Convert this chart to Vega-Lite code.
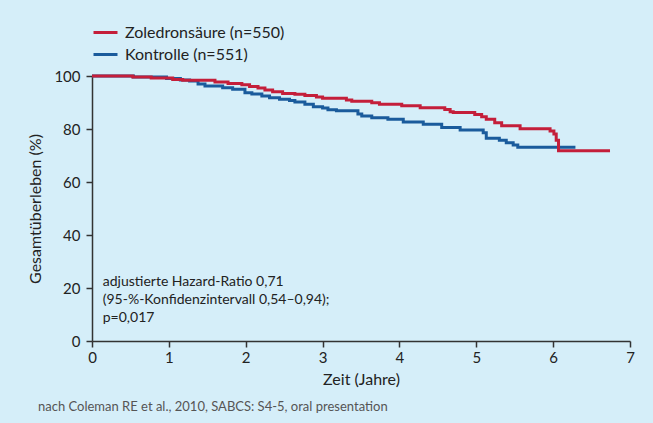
{
  "$schema": "https://vega.github.io/schema/vega-lite/v6.json",
  "width": 538,
  "height": 265,
  "autosize": "none",
  "padding": {"left": 92, "top": 76, "right": 23, "bottom": 82},
  "background": "#D5EEF9",
  "title": {
    "text": "nach Coleman RE et al., 2010, SABCS: S4-5, oral presentation",
    "orient": "bottom",
    "anchor": "start",
    "frame": "group",
    "dx": -54,
    "offset": 14,
    "fontSize": 13,
    "fontWeight": "normal",
    "font": "Lato",
    "color": "#555555"
  },
  "config": {
    "view": {"stroke": null},
    "font": "Lato",
    "axis": {
      "grid": false,
      "labelFlush": false,
      "domainColor": "#333333",
      "domainWidth": 1.5,
      "tickColor": "#333333",
      "tickWidth": 1.5,
      "tickSize": 6,
      "labelFontSize": 15,
      "labelColor": "#222222",
      "labelFont": "Lato",
      "titleFont": "Lato",
      "titleFontSize": 16,
      "titleFontWeight": "normal",
      "titleColor": "#222222"
    }
  },
  "layer": [
    {
      "data": {
        "values": [
          {"grp": "Kontrolle (n=551)", "t": 0, "s": 100},
          {"grp": "Kontrolle (n=551)", "t": 0.54, "s": 99.6},
          {"grp": "Kontrolle (n=551)", "t": 0.97, "s": 99.1},
          {"grp": "Kontrolle (n=551)", "t": 1.15, "s": 98.5},
          {"grp": "Kontrolle (n=551)", "t": 1.27, "s": 98.1},
          {"grp": "Kontrolle (n=551)", "t": 1.38, "s": 97.0},
          {"grp": "Kontrolle (n=551)", "t": 1.47, "s": 96.2},
          {"grp": "Kontrolle (n=551)", "t": 1.70, "s": 95.6},
          {"grp": "Kontrolle (n=551)", "t": 1.83, "s": 95.0},
          {"grp": "Kontrolle (n=551)", "t": 1.99, "s": 93.7},
          {"grp": "Kontrolle (n=551)", "t": 2.08, "s": 93.2},
          {"grp": "Kontrolle (n=551)", "t": 2.21, "s": 92.5},
          {"grp": "Kontrolle (n=551)", "t": 2.31, "s": 91.8},
          {"grp": "Kontrolle (n=551)", "t": 2.44, "s": 91.2},
          {"grp": "Kontrolle (n=551)", "t": 2.57, "s": 90.8},
          {"grp": "Kontrolle (n=551)", "t": 2.64, "s": 90.2},
          {"grp": "Kontrolle (n=551)", "t": 2.77, "s": 89.3},
          {"grp": "Kontrolle (n=551)", "t": 2.88, "s": 88.4},
          {"grp": "Kontrolle (n=551)", "t": 3.0, "s": 87.9},
          {"grp": "Kontrolle (n=551)", "t": 3.07, "s": 87.3},
          {"grp": "Kontrolle (n=551)", "t": 3.18, "s": 86.9},
          {"grp": "Kontrolle (n=551)", "t": 3.46, "s": 85.7},
          {"grp": "Kontrolle (n=551)", "t": 3.51, "s": 84.9},
          {"grp": "Kontrolle (n=551)", "t": 3.64, "s": 84.2},
          {"grp": "Kontrolle (n=551)", "t": 3.85, "s": 83.7},
          {"grp": "Kontrolle (n=551)", "t": 4.05, "s": 82.6},
          {"grp": "Kontrolle (n=551)", "t": 4.31, "s": 81.8},
          {"grp": "Kontrolle (n=551)", "t": 4.55, "s": 80.6},
          {"grp": "Kontrolle (n=551)", "t": 4.79, "s": 79.6},
          {"grp": "Kontrolle (n=551)", "t": 5.09, "s": 78.6},
          {"grp": "Kontrolle (n=551)", "t": 5.13, "s": 76.5},
          {"grp": "Kontrolle (n=551)", "t": 5.30, "s": 75.8},
          {"grp": "Kontrolle (n=551)", "t": 5.39, "s": 74.8},
          {"grp": "Kontrolle (n=551)", "t": 5.48, "s": 74.0},
          {"grp": "Kontrolle (n=551)", "t": 5.54, "s": 73.1},
          {"grp": "Kontrolle (n=551)", "t": 6.29, "s": 73.1},
          {"grp": "Zoledronsäure (n=550)", "t": 0, "s": 100},
          {"grp": "Zoledronsäure (n=550)", "t": 0.53, "s": 99.6},
          {"grp": "Zoledronsäure (n=550)", "t": 0.77, "s": 99.2},
          {"grp": "Zoledronsäure (n=550)", "t": 1.05, "s": 98.7},
          {"grp": "Zoledronsäure (n=550)", "t": 1.18, "s": 98.4},
          {"grp": "Zoledronsäure (n=550)", "t": 1.60, "s": 97.7},
          {"grp": "Zoledronsäure (n=550)", "t": 1.77, "s": 97.2},
          {"grp": "Zoledronsäure (n=550)", "t": 1.95, "s": 96.7},
          {"grp": "Zoledronsäure (n=550)", "t": 2.05, "s": 96.0},
          {"grp": "Zoledronsäure (n=550)", "t": 2.16, "s": 95.5},
          {"grp": "Zoledronsäure (n=550)", "t": 2.25, "s": 94.7},
          {"grp": "Zoledronsäure (n=550)", "t": 2.35, "s": 94.1},
          {"grp": "Zoledronsäure (n=550)", "t": 2.48, "s": 93.4},
          {"grp": "Zoledronsäure (n=550)", "t": 2.64, "s": 93.1},
          {"grp": "Zoledronsäure (n=550)", "t": 2.77, "s": 92.6},
          {"grp": "Zoledronsäure (n=550)", "t": 2.92, "s": 92.1},
          {"grp": "Zoledronsäure (n=550)", "t": 3.0, "s": 91.6},
          {"grp": "Zoledronsäure (n=550)", "t": 3.31, "s": 90.9},
          {"grp": "Zoledronsäure (n=550)", "t": 3.38, "s": 90.5},
          {"grp": "Zoledronsäure (n=550)", "t": 3.64, "s": 89.9},
          {"grp": "Zoledronsäure (n=550)", "t": 3.74, "s": 89.3},
          {"grp": "Zoledronsäure (n=550)", "t": 4.03, "s": 88.8},
          {"grp": "Zoledronsäure (n=550)", "t": 4.27, "s": 88.0},
          {"grp": "Zoledronsäure (n=550)", "t": 4.59, "s": 87.4},
          {"grp": "Zoledronsäure (n=550)", "t": 4.66, "s": 86.5},
          {"grp": "Zoledronsäure (n=550)", "t": 4.70, "s": 86.2},
          {"grp": "Zoledronsäure (n=550)", "t": 4.98, "s": 85.5},
          {"grp": "Zoledronsäure (n=550)", "t": 5.07, "s": 84.6},
          {"grp": "Zoledronsäure (n=550)", "t": 5.13, "s": 83.7},
          {"grp": "Zoledronsäure (n=550)", "t": 5.24, "s": 82.4},
          {"grp": "Zoledronsäure (n=550)", "t": 5.33, "s": 81.2},
          {"grp": "Zoledronsäure (n=550)", "t": 5.57, "s": 80.1},
          {"grp": "Zoledronsäure (n=550)", "t": 5.96, "s": 79.2},
          {"grp": "Zoledronsäure (n=550)", "t": 6.01, "s": 78.1},
          {"grp": "Zoledronsäure (n=550)", "t": 6.04, "s": 75.8},
          {"grp": "Zoledronsäure (n=550)", "t": 6.07, "s": 71.8},
          {"grp": "Zoledronsäure (n=550)", "t": 6.74, "s": 71.8}
        ]
      },
      "mark": {"type": "line", "interpolate": "step-after", "strokeWidth": 3},
      "encoding": {
        "x": {
          "field": "t",
          "type": "quantitative",
          "scale": {"domain": [0, 7], "nice": false},
          "axis": {"values": [0, 1, 2, 3, 4, 5, 6, 7], "format": "d", "title": "Zeit (Jahre)", "labelPadding": 3, "titlePadding": 6}
        },
        "y": {
          "field": "s",
          "type": "quantitative",
          "scale": {"domain": [0, 100], "nice": false},
          "axis": {"values": [0, 20, 40, 60, 80, 100], "format": "d", "title": "Gesamtüberleben (%)", "labelPadding": 6, "titlePadding": 10}
        },
        "color": {
          "field": "grp",
          "type": "nominal",
          "scale": {
            "domain": ["Zoledronsäure (n=550)", "Kontrolle (n=551)"],
            "range": ["#C41E3A", "#1A5B9C"]
          },
          "legend": {
            "title": null,
            "orient": "none",
            "legendX": 0,
            "legendY": -57,
            "symbolType": "stroke",
            "symbolSize": 576,
            "symbolStrokeWidth": 3,
            "labelFontSize": 16,
            "labelFont": "Lato",
            "labelColor": "#222222",
            "labelOffset": 6,
            "rowPadding": -2,
            "padding": 0
          }
        }
      }
    },
    {
      "data": {"values": [{"note": "HR"}]},
      "mark": {
        "type": "text",
        "align": "left",
        "baseline": "top",
        "fontSize": 14,
        "lineHeight": 18,
        "fill": "#222222",
        "font": "Lato",
        "text": ["adjustierte Hazard-Ratio 0,71", "(95-%-Konfidenzintervall 0,54–0,94);", "p=0,017"]
      },
      "encoding": {
        "x": {"datum": 0.14},
        "y": {"datum": 25}
      }
    }
  ]
}
